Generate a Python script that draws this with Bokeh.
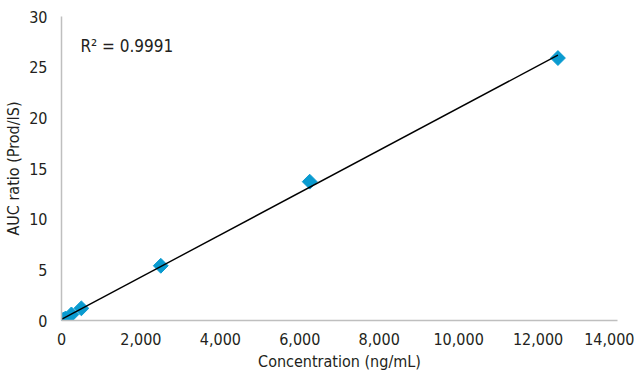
import numpy as np
from bokeh.plotting import figure
from bokeh.models import Range1d, NumeralTickFormatter, FixedTicker, Label
from bokeh.embed import file_html
from bokeh.resources import INLINE

concentration = [10, 50, 100, 250, 500, 2500, 6250, 12500]
auc_ratio = [0.02, 0.1, 0.2, 0.6, 1.2, 5.4, 13.7, 25.9]
x_ticks = [0, 2000, 4000, 6000, 8000, 10000, 12000, 14000]
y_ticks = [0, 5, 10, 15, 20, 25, 30]
r2_text = "R² = 0.9991"

FONT = "'Liberation Sans Narrow', 'DejaVu Sans Condensed', 'Roboto', sans-serif"
TXT = "#231F20"

p = figure(width=634, height=376, output_backend="svg", toolbar_location=None,
           x_range=Range1d(0, 14000), y_range=Range1d(0, 30),
           min_border_left=61, min_border_right=17, min_border_top=16, min_border_bottom=56)
p.outline_line_color = None
p.grid.visible = False

for ax in (p.xaxis[0], p.yaxis[0]):
    ax.axis_line_color = "#BFBFBF"
    ax.axis_line_width = 1.5
    ax.major_tick_line_color = None
    ax.minor_tick_line_color = None
    ax.major_label_text_font = FONT
    ax.major_label_text_font_size = "16px"
    ax.major_label_text_color = TXT
    ax.axis_label_text_font = FONT
    ax.axis_label_text_font_size = "16px"
    ax.axis_label_text_font_style = "normal"
    ax.axis_label_text_color = TXT

p.xaxis.ticker = FixedTicker(ticks=x_ticks)
p.yaxis.ticker = FixedTicker(ticks=y_ticks)
p.xaxis.formatter = NumeralTickFormatter(format="0,0")
p.xaxis.axis_label = "Concentration (ng/mL)"
p.yaxis.axis_label = "AUC ratio (Prod/IS)"
p.xaxis.major_label_standoff = 6
p.yaxis.major_label_standoff = 8
p.xaxis.axis_label_standoff = 4
p.yaxis.axis_label_standoff = 3

slope, intercept = np.polyfit(concentration, auc_ratio, 1)
xs = [min(concentration), max(concentration)]
ys = [slope * v + intercept for v in xs]

p.scatter(concentration, auc_ratio, marker="square", size=10.5, angle=np.pi / 4,
          fill_color="#0A9BD0", line_color="#0A9BD0")
p.line(xs, ys, line_color="black", line_width=1.4)

p.add_layout(Label(x=478, y=27.1, text=r2_text, text_font=FONT,
                   text_font_size="17px", text_color=TXT, text_baseline="middle"))

open("out.html", "w").write(file_html(p, INLINE))
